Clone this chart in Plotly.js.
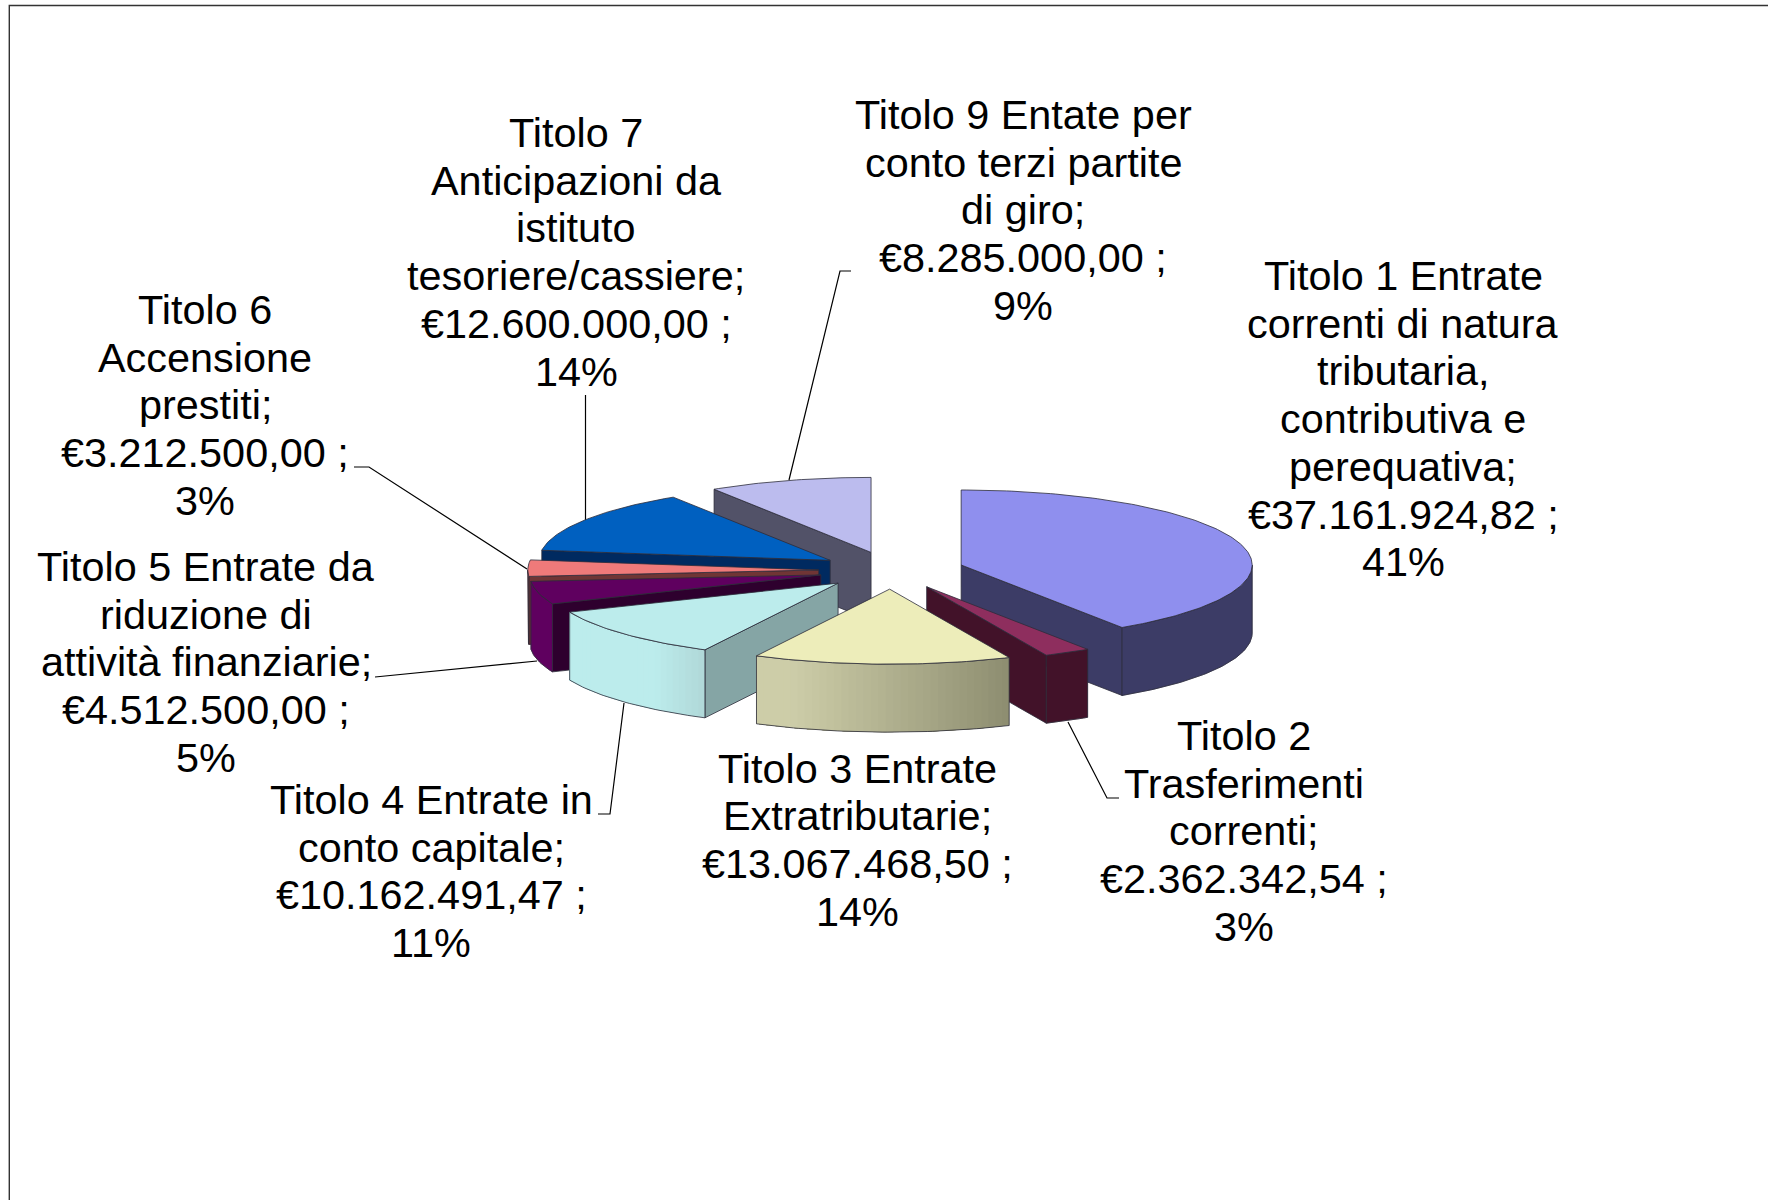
<!DOCTYPE html>
<html>
<head>
<meta charset="utf-8">
<script src="https://cdn.plot.ly/plotly-3.0.1.min.js"></script>
<style>html,body{margin:0;padding:0;background:#fff}#chart{width:1768px;height:1200px}</style>
</head>
<body>
<div id="chart"></div>
<script>
// ---- data ----
const categories = ["Titolo 1","Titolo 2","Titolo 3","Titolo 4","Titolo 5","Titolo 6","Titolo 7","Titolo 9"];
const values = [37161924.82, 2362342.54, 13067468.50, 10162491.47, 4512500.00, 3212500.00, 12600000.00, 8285000.00];
const labelLines = [
  ["Titolo 1 Entrate","correnti di natura","tributaria,","contributiva e","perequativa;","€37.161.924,82 ;","41%"],
  ["Titolo 2","Trasferimenti","correnti;","€2.362.342,54 ;","3%"],
  ["Titolo 3 Entrate","Extratributarie;","€13.067.468,50 ;","14%"],
  ["Titolo 4 Entrate in","conto capitale;","€10.162.491,47 ;","11%"],
  ["Titolo 5 Entrate da","riduzione di","attività finanziarie;","€4.512.500,00 ;","5%"],
  ["Titolo 6","Accensione","prestiti;","€3.212.500,00 ;","3%"],
  ["Titolo 7","Anticipazioni da","istituto","tesoriere/cassiere;","€12.600.000,00 ;","14%"],
  ["Titolo 9 Entate per","conto terzi partite","di giro;","€8.285.000,00 ;","9%"]
];

// ---- styles and layout ----
const topColors  = ["#8f8fee","#8e2e5e","#ededba","#bcecec","#5f005f","#ef7a7a","#0060c0","#bcbcee"];
const faceColors = ["#3c3c66","#421229","#cfcfa9","#85a5a5","#2e002e","#703535","#002a60","#525268"];
const wallLeft   = ["#3c3c66","#421229","#cdcda8","#bcecec","#5f005f","#703535","#002a60","#525268"];
const wallRight  = ["#3c3c66","#421229","#8d8d70","#b0d8d8","#5f005f","#703535","#002a60","#525268"];
const wallHold   = [0,0,0.15,0.7,0,0,0,0];
const labelX = [1403,1244,857,431,206,205,576,1023];
const labelY = [276,736,768.5,800,567,310,133,115];
const lineStep = 47.7, fontSize = 41.4;
const leaders = [
  {x:[789,840,851], y:[480,271,271]},
  {x:[585.5,585.5], y:[395,520]},
  {x:[354,369,527], y:[467,467,569]},
  {x:[375,537], y:[677,661]},
  {x:[598,610,624], y:[814,814,703]},
  {x:[1068,1107,1119], y:[722,798,798]}
];
const cx = 891.5, cy = 570.4, rx = 291, ry = 75, depth = 68, explode = 0.25;
const drawOrder = [0,7,6,5,4,3,1,2];
const edge = "#2c2c3a";

// ---- geometry derived from the values ----
const total = values.reduce((a,b)=>a+b,0);
const rad = d => d*Math.PI/180;
let acc = 0;
const slices = values.map(v => { const s = acc; acc += v/total*360; return {a0:s, a1:acc}; });
slices.forEach(s => {
  const m = rad((s.a0+s.a1)/2);
  s.cx = cx + explode*rx*Math.sin(m);
  s.cy = cy - explode*ry*Math.cos(m);
});
const pt = (s,a,dz=0) => [s.cx + rx*Math.sin(rad(a)), s.cy - ry*Math.cos(rad(a)) + dz];
const arc = (s,a,b,dz=0,step=1) => {
  const out = [], n = Math.max(1,Math.ceil(Math.abs(b-a)/step));
  for (let i=0;i<=n;i++) out.push(pt(s,a+(b-a)*i/n,dz));
  return out;
};
const hex = h => [1,3,5].map(i=>parseInt(h.substr(i,2),16));
const mix = (c1,c2,t) => { const A=hex(c1),B=hex(c2); return "rgb("+A.map((v,i)=>Math.round(v+(B[i]-v)*t)).join(",")+")"; };

const traces = [];
const poly = (pts,fill,lineColor,lineWidth) => traces.push({
  type:"scatter", mode:"lines", x:pts.map(p=>p[0]), y:pts.map(p=>p[1]),
  fill: fill ? "toself" : "none", fillcolor: fill||undefined,
  line:{color:lineColor,width:lineWidth}, showlegend:false, hoverinfo:"skip"
});

leaders.forEach(l => traces.push({type:"scatter",mode:"lines",x:l.x,y:l.y,line:{color:"#000",width:1.2},showlegend:false,hoverinfo:"skip"}));

drawOrder.forEach(i => {
  const s = slices[i], c = [s.cx,s.cy], cb = [s.cx,s.cy+depth];
  // cut faces, drawn only when they look towards the viewer
  if (Math.cos(rad(s.a0-90)) < -0.001) poly([c,pt(s,s.a0),pt(s,s.a0,depth),cb,c],faceColors[i],edge,0.8);
  if (Math.cos(rad(s.a1+90)) < -0.001) poly([c,pt(s,s.a1),pt(s,s.a1,depth),cb,c],faceColors[i],edge,0.8);
  // outer wall, only the part facing the viewer (90..270 degrees)
  const w0 = Math.max(s.a0,90), w1 = Math.min(s.a1,270);
  if (w1 > w0) {
    if (wallLeft[i] === wallRight[i]) {
      const pts = arc(s,w0,w1).concat(arc(s,w1,w0,depth)); pts.push(pts[0]);
      poly(pts,wallLeft[i],wallLeft[i],0.5);
    } else {
      // overlapping strips painted from the right-hand end, so no seams show
      const n = Math.ceil((w1-w0)/1.5);
      for (let k=0;k<n;k++) {
        const a = w0+(w1-w0)*k/n;
        const t = Math.min(1,((k+0.5)/n)/(1-wallHold[i]));
        const col = mix(wallRight[i],wallLeft[i],t);
        const pts = arc(s,a,w1,0,3).concat(arc(s,w1,a,depth,3)); pts.push(pts[0]);
        poly(pts,col,col,0);
      }
    }
    const o = arc(s,w0,w1).concat(arc(s,w1,w0,depth)); o.push(o[0]);
    poly(o,null,edge,0.8);
  }
  // top surface
  const top = [c].concat(arc(s,s.a0,s.a1)); top.push(c);
  poly(top,topColors[i],edge,0.8);
});

const annotations = [];
labelLines.forEach((lines,i) => lines.forEach((t,j) => annotations.push({
  x:labelX[i], y:labelY[i]+j*lineStep, xref:"x", yref:"y", text:t, showarrow:false,
  xanchor:"center", yanchor:"middle", font:{family:"Liberation Sans, Arial, sans-serif",size:fontSize,color:"#000"}
})));

const layout = {
  width:1768, height:1200, margin:{l:0,r:0,t:0,b:0},
  paper_bgcolor:"#fff", plot_bgcolor:"#fff", showlegend:false,
  xaxis:{range:[0,1768],visible:false,fixedrange:true},
  yaxis:{range:[1200,0],visible:false,fixedrange:true},
  annotations,
  shapes:[{type:"path",path:"M 9.3 1200 L 9.3 5.5 L 1768 5.5",xref:"x",yref:"y",line:{color:"#333",width:1.4}}]
};
Plotly.newPlot("chart",traces,layout,{displayModeBar:false,staticPlot:true});
</script>
</body>
</html>
